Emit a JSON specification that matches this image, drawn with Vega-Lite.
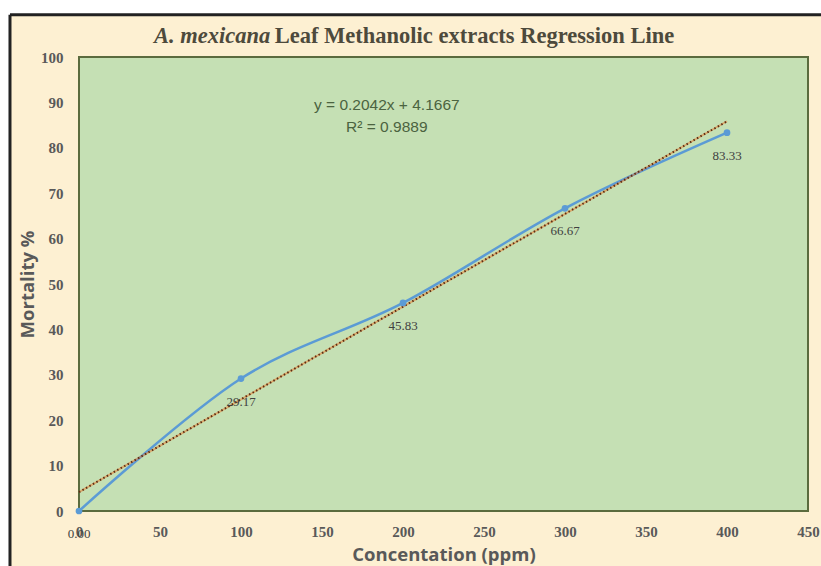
{
  "$schema": "https://vega.github.io/schema/vega-lite/v6.json",
  "autosize": {"type": "none"},
  "width": 729,
  "height": 454,
  "padding": {"left": 79, "top": 57, "right": 13, "bottom": 55},
  "background": "#fdf0d2",
  "config": {
    "view": {"fill": "#c5e0b4", "stroke": "#5b6b3e", "strokeWidth": 2},
    "axis": {"grid": false, "ticks": false, "domain": false, "labelFont": "Liberation Serif", "labelFontWeight": "bold", "labelFontSize": 15, "labelColor": "#595959", "labelFlush": false, "labelOverlap": false, "titleFont": "Open Sans", "titleFontWeight": "bold", "titleFontSize": 18.5, "titleColor": "#595959"}
  },
  "datasets": {
    "obs": [
      {"conc": 0, "mort": 0, "label": "0.00"},
      {"conc": 100, "mort": 29.17, "label": "29.17"},
      {"conc": 200, "mort": 45.83, "label": "45.83"},
      {"conc": 300, "mort": 66.67, "label": "66.67"},
      {"conc": 400, "mort": 83.33, "label": "83.33"}
    ],
    "trend": [
      {"conc": 0, "mort": 4.1667},
      {"conc": 400, "mort": 85.8467}
    ],
    "notes": [
      {"conc": 190, "mort": 89.4, "text": "y = 0.2042x + 4.1667"},
      {"conc": 190, "mort": 84.6, "text": "R² = 0.9889"}
    ],
    "frame": [
      {"x1": -60, "x2": 470, "y1": 109.3, "y2": 125},
      {"x1": -60, "x2": -42.6, "y1": -30, "y2": 125}
    ]
  },
  "layer": [
    {
      "data": {"name": "obs"},
      "mark": {"type": "line", "interpolate": "cardinal", "color": "#5b9bd5", "strokeWidth": 2.5},
      "encoding": {
        "x": {"field": "conc", "type": "quantitative", "scale": {"domain": [0, 450]}, "axis": {"values": [0, 50, 100, 150, 200, 250, 300, 350, 400, 450], "labelPadding": 13, "title": "Concentation (ppm)", "titlePadding": 6}},
        "y": {"field": "mort", "type": "quantitative", "scale": {"domain": [0, 100]}, "axis": {"values": [0, 10, 20, 30, 40, 50, 60, 70, 80, 90, 100], "labelPadding": 16, "title": "Mortality %", "titlePadding": 3}}
      }
    },
    {
      "data": {"name": "trend"},
      "mark": {"type": "line", "color": "#ed7d31", "strokeWidth": 2, "opacity": 0.55},
      "encoding": {
        "x": {"field": "conc", "type": "quantitative"},
        "y": {"field": "mort", "type": "quantitative"}
      }
    },
    {
      "data": {"name": "trend"},
      "mark": {"type": "line", "color": "#5a2e14", "strokeWidth": 2, "strokeDash": [1.5, 2.5]},
      "encoding": {
        "x": {"field": "conc", "type": "quantitative"},
        "y": {"field": "mort", "type": "quantitative"}
      }
    },
    {
      "data": {"name": "obs"},
      "mark": {"type": "point", "filled": true, "color": "#5b9bd5", "size": 45, "opacity": 1},
      "encoding": {
        "x": {"field": "conc", "type": "quantitative"},
        "y": {"field": "mort", "type": "quantitative"}
      }
    },
    {
      "data": {"name": "obs"},
      "mark": {"type": "text", "dy": 23, "font": "Liberation Serif", "fontSize": 13, "color": "#404040"},
      "encoding": {
        "x": {"field": "conc", "type": "quantitative"},
        "y": {"field": "mort", "type": "quantitative"},
        "text": {"field": "label"}
      }
    },
    {
      "data": {"name": "notes"},
      "mark": {"type": "text", "font": "Liberation Sans", "fontSize": 15.5, "color": "#4b6340"},
      "encoding": {
        "x": {"field": "conc", "type": "quantitative"},
        "y": {"field": "mort", "type": "quantitative"},
        "text": {"field": "text"}
      }
    },
    {
      "data": {"name": "frame"},
      "mark": {"type": "rect", "color": "white", "opacity": 1},
      "encoding": {
        "x": {"field": "x1", "type": "quantitative"},
        "x2": {"field": "x2"},
        "y": {"field": "y1", "type": "quantitative"},
        "y2": {"field": "y2"}
      }
    },
    {
      "data": {"values": [{}]},
      "mark": {"type": "rule", "color": "#222222", "strokeWidth": 3},
      "encoding": {
        "x": {"datum": -42.6},
        "x2": {"datum": 470},
        "y": {"datum": 109.3}
      }
    },
    {
      "data": {"values": [{}]},
      "mark": {"type": "rule", "color": "#222222", "strokeWidth": 3},
      "encoding": {
        "x": {"datum": -42.6},
        "y": {"datum": 109.3},
        "y2": {"datum": -30}
      }
    },
    {
      "data": {"values": [{}]},
      "mark": {"type": "text", "align": "right", "font": "Liberation Serif", "fontStyle": "italic", "fontWeight": "bold", "fontSize": 22.5, "color": "#4d4a3c"},
      "encoding": {
        "x": {"datum": 118},
        "y": {"datum": 104.7},
        "text": {"value": "A. mexicana"}
      }
    },
    {
      "data": {"values": [{}]},
      "mark": {"type": "text", "align": "left", "font": "Liberation Serif", "fontWeight": "bold", "fontSize": 22.5, "color": "#4d4a3c"},
      "encoding": {
        "x": {"datum": 120.8},
        "y": {"datum": 104.7},
        "text": {"value": "Leaf Methanolic extracts Regression Line"}
      }
    }
  ]
}
